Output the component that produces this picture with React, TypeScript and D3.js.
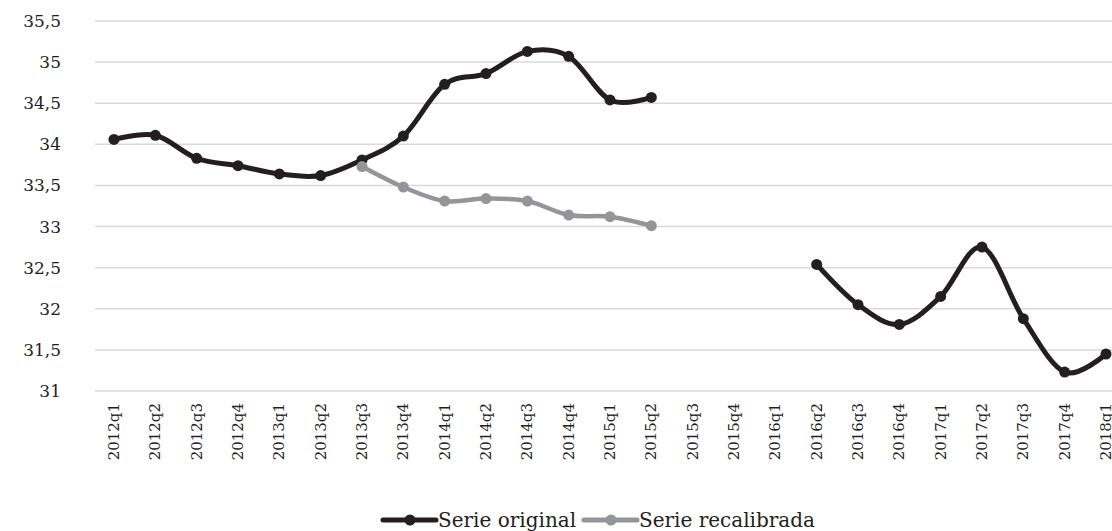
import React from "react";
import * as d3 from "d3";

const categories = [
  "2012q1","2012q2","2012q3","2012q4","2013q1","2013q2","2013q3","2013q4",
  "2014q1","2014q2","2014q3","2014q4","2015q1","2015q2","2015q3","2015q4",
  "2016q1","2016q2","2016q3","2016q4","2017q1","2017q2","2017q3","2017q4","2018q1",
];
const serieOriginal: (number | null)[] = [
  34.06, 34.11, 33.83, 33.74, 33.64, 33.62, 33.81, 34.10,
  34.73, 34.86, 35.13, 35.07, 34.54, 34.57, null, null,
  null, 32.54, 32.05, 31.81, 32.15, 32.75, 31.88, 31.23, 31.45,
];
const serieRecalibrada: (number | null)[] = [
  null, null, null, null, null, null, 33.73, 33.48,
  33.31, 33.34, 33.31, 33.14, 33.12, 33.01, null, null,
  null, null, null, null, null, null, null, null, null,
];
const yTicks = [31, 31.5, 32, 32.5, 33, 33.5, 34, 34.5, 35, 35.5];
const legendLabels = ["Serie original", "Serie recalibrada"];

const W = 1112, H = 531;
const FONT = "'DejaVu Serif', serif";
const BLACK = "#231f20";
const GRAY = "#949598";

export default function App() {
  const x = d3.scalePoint<string>().domain(categories).range([114, 1106]);
  const y = d3.scaleLinear().domain([31, 35.5]).range([391, 21]);

  const pts = (vals: (number | null)[]) =>
    vals.map((v, i) => ({ c: categories[i], v }));

  const line = d3
    .line<{ c: string; v: number | null }>()
    .defined((d) => d.v !== null)
    .x((d) => x(d.c)!)
    .y((d) => y(d.v as number))
    .curve(d3.curveCatmullRom.alpha(0));

  const fmt = (t: number) => String(t).replace(".", ",");

  const series = [
    { vals: serieOriginal, color: BLACK, w: 5 },
    { vals: serieRecalibrada, color: GRAY, w: 4.5 },
  ];

  return (
    <div style={{ position: "fixed", left: 0, top: 0 }}>
      <svg width={W} height={H} style={{ display: "block", background: "#fff" }}>
        {yTicks.map((t) => (
          <g key={t}>
            <line x1={95} x2={W} y1={y(t)} y2={y(t)} stroke="#d9d9d9" strokeWidth={1.5} />
            <text x={61} y={y(t)} dy="0.35em" textAnchor="end" fontFamily={FONT} fontSize={17} fill={BLACK}>
              {fmt(t)}
            </text>
          </g>
        ))}
        {categories.map((c) => (
          <text
            key={c}
            transform={`translate(${x(c)! + 5},403) rotate(-90)`}
            textAnchor="end"
            fontFamily={FONT}
            fontSize={15}
            fill={BLACK}
          >
            {c}
          </text>
        ))}
        {series.map((s, si) => (
          <g key={si}>
            <path d={line(pts(s.vals)) || ""} fill="none" stroke={s.color} strokeWidth={s.w} strokeLinejoin="round" />
            {pts(s.vals)
              .filter((d) => d.v !== null)
              .map((d) => (
                <circle key={d.c} cx={x(d.c)!} cy={y(d.v as number)} r={5.5} fill={s.color} />
              ))}
          </g>
        ))}
        {legendLabels.map((lab, i) => {
          const lx = i === 0 ? 383 : 584;
          const color = i === 0 ? BLACK : GRAY;
          return (
            <g key={lab}>
              <line x1={lx} x2={lx + 53} y1={520} y2={520} stroke={color} strokeWidth={5} strokeLinecap="round" />
              <circle cx={lx + 27} cy={520} r={5.5} fill={color} />
              <text x={lx + 55} y={520} dy="0.35em" fontFamily={FONT} fontSize={20} fill={BLACK}>
                {lab}
              </text>
            </g>
          );
        })}
      </svg>
    </div>
  );
}
